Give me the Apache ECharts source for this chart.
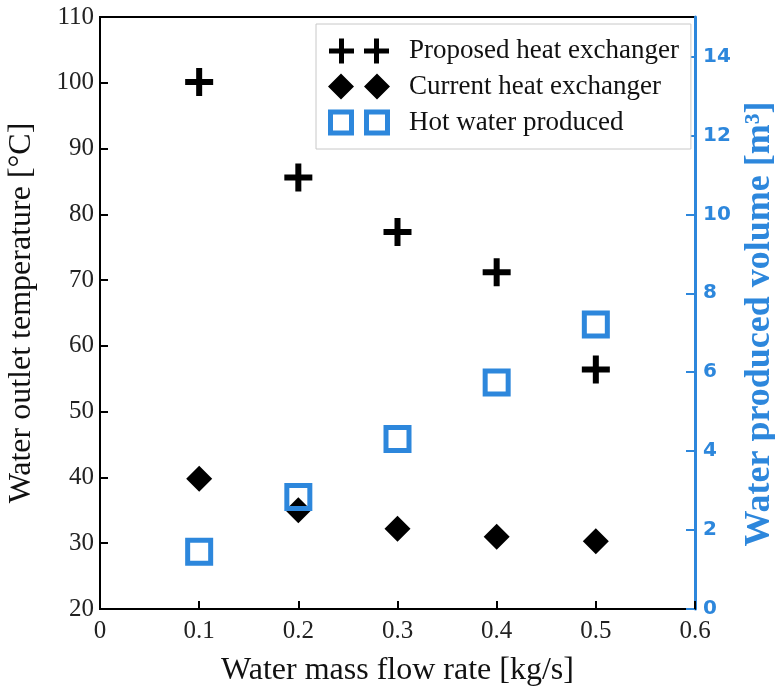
<!DOCTYPE html>
<html>
<head>
<meta charset="utf-8">
<script src="https://cdn.jsdelivr.net/npm/echarts@6/dist/echarts.min.js"></script>
<style>
    html, body { margin: 0; padding: 0; background: #fff; }
    #chart { width: 775px; height: 689px; }
</style>
</head>
<body>
<div id="chart"></div>
<script>
    // data
    var flowRates = [0.1, 0.2, 0.3, 0.4, 0.5];
    var proposedTemp = [100.1, 85.6, 77.3, 71.2, 56.4];
    var currentTemp = [39.8, 35.0, 32.2, 31.0, 30.3];
    var hotWaterVolume = [1.45, 2.84, 4.31, 5.74, 7.21];
    var seriesNames = ['Proposed heat exchanger', 'Current heat exchanger', 'Hot water produced'];

    var BLUE = '#2d87dc';
    var SERIF = '"Liberation Serif", "DejaVu Serif", serif';

    // marker shapes
    var PLUS = 'path://M11,0 L17,0 L17,11 L28,11 L28,17 L17,17 L17,28 L11,28 L11,17 L0,17 L0,11 L11,11 Z';
    var HOLLOW_SQ = 'path://M0,0 L28,0 L28,28 L0,28 Z M5,5 L5,23 L23,23 L23,5 Z';
    // legend icons: two markers + an empty point to push the text away
    var LEG_PLUS = 'path://M11,1 L16,1 L16,11 L26,11 L26,16 L16,16 L16,26 L11,26 L11,16 L1,16 L1,11 L11,11 Z ' +
        'M46,1 L51,1 L51,11 L61,11 L61,16 L51,16 L51,26 L46,26 L46,16 L36,16 L36,11 L46,11 Z M0,0 L0,0 M76,26 L76,26';
    var LEG_DIAMOND = 'path://M13,0 L26,13 L13,26 L0,13 Z M49,0 L62,13 L49,26 L36,13 Z M76,26 L76,26';
    var LEG_SQUARE = 'path://M0,0 L26,0 L26,26 L0,26 Z M5,5 L5,21 L21,21 L21,5 Z ' +
        'M36,0 L62,0 L62,26 L36,26 Z M41,5 L41,21 L57,21 L57,5 Z M76,26 L76,26';

    function pairs(xs, ys) {
        var out = [];
        for (var i = 0; i < xs.length; i++) {
            out.push([xs[i], ys[i]]);
        }
        return out;
    }

    var myChart = echarts.init(document.getElementById('chart'));
    var option = {
        animation: false,
        backgroundColor: '#fff',
        grid: {
            left: 100,
            right: 80,
            top: 17,
            bottom: 80,
            outerBoundsMode: 'none',
            show: true,
            borderColor: '#000',
            borderWidth: 2
        },
        legend: {
            orient: 'vertical',
            left: 316,
            top: 24,
            padding: [13, 12, 13, 12],
            itemWidth: 76,
            itemHeight: 26,
            itemGap: 9,
            borderColor: '#c8c8c8',
            borderWidth: 1,
            backgroundColor: '#fff',
            textStyle: {
                fontFamily: SERIF,
                fontSize: 27,
                color: '#111'
            },
            data: [
                { name: seriesNames[0], icon: LEG_PLUS, itemStyle: { color: '#000', borderWidth: 0, opacity: 1 } },
                { name: seriesNames[1], icon: LEG_DIAMOND, itemStyle: { color: '#000', borderWidth: 0, opacity: 1 } },
                { name: seriesNames[2], icon: LEG_SQUARE, itemStyle: { color: BLUE, borderWidth: 0, opacity: 1 } }
            ]
        },
        xAxis: {
            type: 'value',
            min: 0,
            max: 0.6,
            interval: 0.1,
            name: 'Water mass flow rate [kg/s]',
            nameLocation: 'middle',
            nameGap: 46,
            nameTextStyle: { fontFamily: SERIF, fontSize: 32, color: '#111' },
            axisLine: { lineStyle: { color: '#000', width: 2 } },
            axisTick: { inside: true, length: 8, lineStyle: { color: '#000', width: 2 } },
            axisLabel: { fontFamily: SERIF, fontSize: 25, color: '#222', margin: 10 },
            splitLine: { show: false }
        },
        yAxis: [
            {
                type: 'value',
                min: 20,
                max: 110,
                interval: 10,
                name: 'Water outlet temperature [°C]',
                nameLocation: 'middle',
                nameGap: 62,
                nameTextStyle: { fontFamily: SERIF, fontSize: 32, color: '#111' },
                axisLine: { show: true, lineStyle: { color: '#000', width: 2 } },
                axisTick: { show: true, inside: true, length: 8, lineStyle: { color: '#000', width: 2 } },
                axisLabel: { fontFamily: SERIF, fontSize: 25, color: '#222', margin: 6 },
                splitLine: { show: false }
            },
            {
                type: 'value',
                position: 'right',
                min: 0,
                max: 15,
                interval: 2,
                name: 'Water produced volume [m³]',
                nameLocation: 'middle',
                nameRotate: 90,
                nameGap: 44,
                nameTextStyle: {
                    fontFamily: SERIF,
                    fontSize: 36,
                    fontWeight: 'bold',
                    color: BLUE,
                    padding: [0, 22, 0, 0]
                },
                axisLine: { show: true, lineStyle: { color: BLUE, width: 3 } },
                axisTick: { show: true, inside: true, length: 9, lineStyle: { color: BLUE, width: 2 } },
                axisLabel: {
                    fontFamily: '"DejaVu Sans", sans-serif',
                    fontWeight: 'bold',
                    fontSize: 20,
                    color: BLUE,
                    margin: 8,
                    showMaxLabel: false
                },
                splitLine: { show: false }
            }
        ],
        series: [
            {
                name: seriesNames[0],
                type: 'scatter',
                symbol: PLUS,
                symbolSize: 28,
                itemStyle: { color: '#000', opacity: 1 },
                data: pairs(flowRates, proposedTemp)
            },
            {
                name: seriesNames[1],
                type: 'scatter',
                symbol: 'diamond',
                symbolSize: 26,
                itemStyle: { color: '#000', opacity: 1 },
                data: pairs(flowRates, currentTemp)
            },
            {
                name: seriesNames[2],
                type: 'scatter',
                yAxisIndex: 1,
                symbol: HOLLOW_SQ,
                symbolSize: 28,
                itemStyle: { color: BLUE, opacity: 1 },
                data: pairs(flowRates, hotWaterVolume)
            }
        ]
    };
    if (option && typeof option === "object") {
        myChart.setOption(option, true);
    }
</script>
</body>
</html>
